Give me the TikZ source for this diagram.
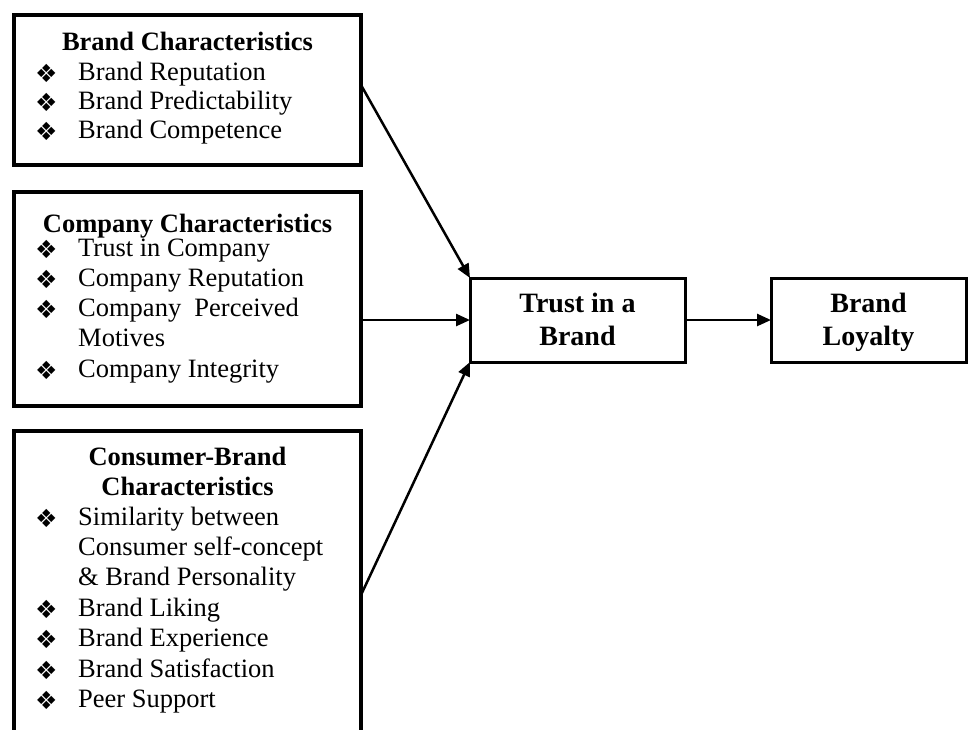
\documentclass[tikz,border=0pt]{standalone}
\usepackage{fontspec}
\setmainfont{Liberation Serif}
\newfontfamily\dejavu{DejaVu Sans}
\usetikzlibrary{arrows.meta}
\newcommand{\bul}{\makebox[41pt][l]{\hspace*{-2pt}\raisebox{-2pt}{\dejavu\fontsize{25}{25}\selectfont ❖}}}
\newcommand{\ind}{\hspace*{41pt}}
\newcommand{\topfix}{\rule{0pt}{27pt}}
\begin{document}
\begin{tikzpicture}[x=1pt,y=-1pt,
  frame/.style={draw, line width=3.5pt, fill=white, inner sep=0pt, outer sep=0pt},
  txt/.style={inner sep=0pt, align=left, anchor=north west},
  ttl/.style={inner sep=0pt, align=center, font=\bfseries\fontsize{26.5}{30}\selectfont},
  big/.style={font=\bfseries\fontsize{28}{33}\selectfont, align=center},
  arr/.style={line width=2.5pt, -{Triangle[length=14pt,width=12pt]}}]
\useasboundingbox (0,0) rectangle (968,729);
\fill[white] (0,0) rectangle (968,729);
% left boxes
\node[frame, anchor=north west, minimum width=347pt, minimum height=150pt] (b1) at (14,15) {};
\node[frame, anchor=north west, minimum width=347pt, minimum height=214pt] (b2) at (14,192) {};
\node[frame, anchor=north west, minimum width=347pt, minimum height=330pt] (b3) at (14,431) {};
% right boxes
\node[frame, line width=3pt, big, minimum width=215pt, minimum height=84pt] (trust) at (577.5,320) {\topfix Trust in a\\Brand\strut};
\node[frame, line width=3pt, big, minimum width=195pt, minimum height=84pt] (loyal) at (868.5,320) {\topfix Brand\\Loyalty\strut};
% box 1 text
\node[ttl, anchor=base] (t1) at (187.5,50) {Brand Characteristics};
\node[txt, font=\fontsize{26.5}{29}\selectfont] (l1) at (37,59.7)
  {\strut\bul Brand Reputation\\ \bul Brand Predictability\\ \bul Brand Competence};
% box 2 text
\node[ttl, anchor=base] (t2) at (187.5,232) {Company Characteristics};
\node[txt, font=\fontsize{26.5}{30.2}\selectfont] (l2) at (37,234.9)
  {\strut\bul Trust in Company\\ \bul Company Reputation\\ \bul Company\ \ Perceived\\ \ind Motives\\ \bul Company Integrity};
% box 3 text
\node[ttl, anchor=north] (t3) at (187.5,444) {\strut Consumer-Brand\\Characteristics};
\node[txt, font=\fontsize{26.5}{30.4}\selectfont] (l3) at (37,503.7)
  {\strut\bul Similarity between\\ \ind Consumer self-concept\\ \ind \& Brand Personality\\ \bul Brand Liking\\ \bul Brand Experience\\ \bul Brand Satisfaction\\ \bul Peer Support};
% arrows
\draw[arr] ([yshift=5pt]b1.east) -- (trust.north west);
\draw[arr] (b2.east |- trust.west) -- (trust.west);
\draw[arr] ([yshift=-164pt]b3.north east) -- (trust.south west);
\draw[arr] (trust.east) -- (loyal.west);
\end{tikzpicture}
\end{document}
